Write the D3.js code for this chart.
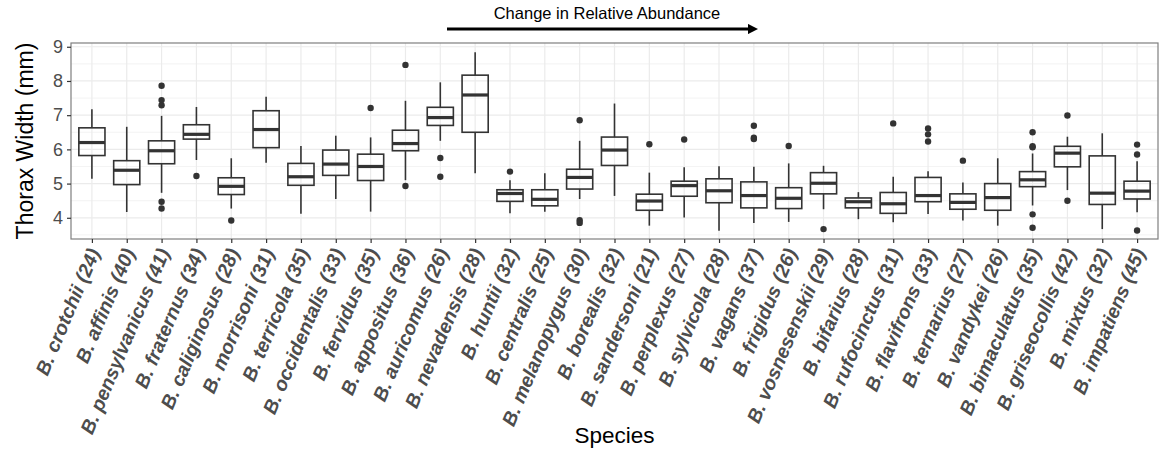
<!DOCTYPE html>
<html lang="en">
<head>
    <meta charset="UTF-8">
    <title>Thorax width by species</title>
    <style>
        body { margin: 0; background: #fff; }
        text { font-family: "Liberation Sans", Arial, Helvetica, sans-serif; }
        .grid line { stroke: #ebebeb; }
        .box rect, .box line { stroke: #333; fill: none; }
    </style>
</head>
<body>
    <svg width="1160" height="452"></svg>

    <script src="https://d3js.org/d3.v7.min.js"></script>
    <script>
        // values
        var species = ["crotchii", "affinis", "pensylvanicus", "fraternus", "caliginosus", "morrisoni",
            "terricola", "occidentalis", "fervidus", "appositus", "auricomus", "nevadensis", "huntii",
            "centralis", "melanopygus", "borealis", "sandersoni", "perplexus", "sylvicola", "vagans",
            "frigidus", "vosnesenskii", "bifarius", "rufocinctus", "flavifrons", "ternarius", "vandykei",
            "bimaculatus", "griseocollis", "mixtus", "impatiens"];
        var counts = [24, 40, 41, 34, 28, 31, 35, 33, 35, 36, 26, 28, 32, 25, 30, 32, 21, 27, 28, 37,
            26, 29, 28, 31, 33, 27, 26, 35, 42, 32, 45];
        var whiskLow = [5.14, 4.17, 4.73, 5.69, 4.27, 5.61, 4.12, 4.55, 4.18, 5.10, 6.25, 5.30, 4.13,
            4.18, 4.55, 4.64, 3.77, 4.01, 3.62, 3.85, 3.88, 4.25, 3.96, 3.87, 4.11, 3.92, 3.77, 4.36,
            4.81, 3.67, 4.16];
        var q1 = [5.82, 4.97, 5.58, 6.30, 4.68, 6.05, 4.95, 5.24, 5.09, 5.96, 6.70, 6.50, 4.48, 4.35,
            4.84, 5.53, 4.22, 4.63, 4.44, 4.29, 4.27, 4.70, 4.29, 4.13, 4.47, 4.25, 4.22, 4.91, 5.49,
            4.39, 4.55];
        var medians = [6.20, 5.39, 5.96, 6.44, 4.92, 6.58, 5.20, 5.57, 5.50, 6.17, 6.93, 7.59, 4.71,
            4.54, 5.18, 5.98, 4.49, 4.94, 4.79, 4.65, 4.57, 5.01, 4.47, 4.41, 4.65, 4.45, 4.59, 5.11,
            5.89, 4.72, 4.78];
        var q3 = [6.63, 5.67, 6.25, 6.72, 5.17, 7.13, 5.59, 5.98, 5.86, 6.56, 7.23, 8.17, 4.82, 4.82,
            5.42, 6.36, 4.69, 5.07, 5.14, 5.05, 4.88, 5.32, 4.58, 4.74, 5.18, 4.70, 5.00, 5.35, 6.09,
            5.81, 5.07];
        var whiskHigh = [7.17, 6.66, 6.98, 7.24, 5.74, 7.54, 6.10, 6.40, 6.35, 7.42, 7.96, 8.84, 5.10,
            5.30, 6.25, 7.34, 5.32, 5.48, 5.51, 5.49, 5.59, 5.52, 4.75, 5.20, 5.36, 5.03, 5.74, 5.88,
            6.37, 6.47, 5.65];
        var outliers = [[], [], [7.86, 7.44, 7.29, 4.47, 4.27], [5.22], [3.92], [], [], [], [7.21],
            [8.47, 4.93], [5.75, 5.20], [], [5.35], [], [6.85, 3.93, 3.85], [], [6.15], [6.29], [],
            [6.69, 6.34, 6.30], [6.10], [3.67], [], [6.76], [6.61, 6.44, 6.23], [5.67], [],
            [6.50, 6.09, 6.06, 4.10, 3.71], [6.99, 4.50], [], [6.14, 5.85, 3.63]];
        var yTicks = [4, 5, 6, 7, 8, 9];

        var svg = d3.select("svg");
        var pLeft = 71, pRight = 1158, pTop = 43, pBottom = 239;

        var labels = species.map(function (s, i) { return "B. " + s + " (" + counts[i] + ")"; });

        var x = d3.scalePoint().domain(labels).range([pLeft, pRight]).padding(0.6);
        var y = d3.scaleLinear().domain([3.38, 9.11]).range([pBottom, pTop]);
        var step = x.step();

        // grid
        var grid = svg.append("g").attr("class", "grid");
        grid.selectAll(".minor").data(d3.range(3.5, 9.1, 1)).enter().append("line")
            .attr("x1", pLeft).attr("x2", pRight)
            .attr("y1", function (d) { return y(d); }).attr("y2", function (d) { return y(d); })
            .attr("stroke-width", 0.6);
        grid.selectAll(".major").data(yTicks).enter().append("line")
            .attr("x1", pLeft).attr("x2", pRight)
            .attr("y1", function (d) { return y(d); }).attr("y2", function (d) { return y(d); })
            .attr("stroke-width", 1.2);
        grid.selectAll(".vx").data(labels).enter().append("line")
            .attr("x1", function (d) { return x(d); }).attr("x2", function (d) { return x(d); })
            .attr("y1", pTop).attr("y2", pBottom)
            .attr("stroke-width", 1.2);

        // boxes
        var bw = step * 0.75;
        var box = svg.append("g").attr("class", "box").selectAll("g").data(labels).enter().append("g");
        box.append("line")
            .attr("x1", function (d) { return x(d); }).attr("x2", function (d) { return x(d); })
            .attr("y1", function (d, i) { return y(whiskHigh[i]); })
            .attr("y2", function (d, i) { return y(q3[i]); })
            .attr("stroke-width", 1.6);
        box.append("line")
            .attr("x1", function (d) { return x(d); }).attr("x2", function (d) { return x(d); })
            .attr("y1", function (d, i) { return y(q1[i]); })
            .attr("y2", function (d, i) { return y(whiskLow[i]); })
            .attr("stroke-width", 1.6);
        box.append("rect")
            .attr("x", function (d) { return x(d) - bw / 2; })
            .attr("width", bw)
            .attr("y", function (d, i) { return y(q3[i]); })
            .attr("height", function (d, i) { return y(q1[i]) - y(q3[i]); })
            .attr("stroke-width", 1.6);
        box.append("line")
            .attr("x1", function (d) { return x(d) - bw / 2; }).attr("x2", function (d) { return x(d) + bw / 2; })
            .attr("y1", function (d, i) { return y(medians[i]); })
            .attr("y2", function (d, i) { return y(medians[i]); })
            .attr("stroke-width", 3.2);
        box.selectAll("circle").data(function (d, i) {
            return outliers[i].map(function (v) { return { k: d, v: v }; });
        }).enter().append("circle")
            .attr("cx", function (d) { return x(d.k); })
            .attr("cy", function (d) { return y(d.v); })
            .attr("r", 3.2)
            .attr("fill", "#333");

        // panel border
        svg.append("rect")
            .attr("x", pLeft).attr("y", pTop)
            .attr("width", pRight - pLeft).attr("height", pBottom - pTop)
            .attr("fill", "none").attr("stroke", "#7f7f7f").attr("stroke-width", 1.2);

        // y axis
        var yAxis = svg.append("g")
            .attr("transform", "translate(" + pLeft + ",0)")
            .call(d3.axisLeft(y).tickValues(yTicks).tickFormat(d3.format("d")).tickSize(4).tickPadding(4));
        yAxis.select(".domain").remove();
        yAxis.selectAll(".tick line").attr("stroke", "#333").attr("stroke-width", 1.2);
        yAxis.selectAll(".tick text").attr("fill", "#4d4d4d").style("font-size", "18px")
            .style("font-family", "'Liberation Sans', Arial, sans-serif");

        // x axis
        var xAxis = svg.append("g")
            .attr("transform", "translate(0," + pBottom + ")")
            .call(d3.axisBottom(x).tickSize(4).tickPadding(3));
        xAxis.select(".domain").remove();
        xAxis.selectAll(".tick line").attr("stroke", "#333").attr("stroke-width", 1.2);
        xAxis.selectAll(".tick text")
            .attr("fill", "#4d4d4d")
            .style("font-size", "19.5px").style("font-weight", "bold").style("font-style", "italic")
            .style("font-family", "'Liberation Sans', Arial, sans-serif")
            .attr("text-anchor", "end")
            .attr("dy", null).attr("y", null)
            .attr("transform", "translate(8,13) rotate(-67)");

        // axis titles
        svg.append("text")
            .attr("transform", "translate(33," + ((pTop + pBottom) / 2) + ") rotate(-90)")
            .attr("text-anchor", "middle")
            .style("font-size", "23px")
            .text("Thorax Width (mm)");
        svg.append("text")
            .attr("x", (pLeft + pRight) / 2).attr("y", 443)
            .attr("text-anchor", "middle")
            .style("font-size", "22.5px")
            .text("Species");

        // arrow annotation
        svg.append("defs").append("marker")
            .attr("id", "head").attr("viewBox", "0 0 10 10")
            .attr("refX", 2).attr("refY", 5)
            .attr("markerWidth", 3.4).attr("markerHeight", 3.4)
            .attr("orient", "auto")
            .append("path").attr("d", "M0,0 L10,5 L0,10 z").attr("fill", "#000");
        svg.append("line")
            .attr("x1", 447).attr("x2", 750).attr("y1", 29).attr("y2", 29)
            .attr("stroke", "#000").attr("stroke-width", 3)
            .attr("marker-end", "url(#head)");
        svg.append("text")
            .attr("x", 607).attr("y", 19)
            .attr("text-anchor", "middle")
            .style("font-size", "16.5px")
            .text("Change in Relative Abundance");
    </script>
</body>
</html>
